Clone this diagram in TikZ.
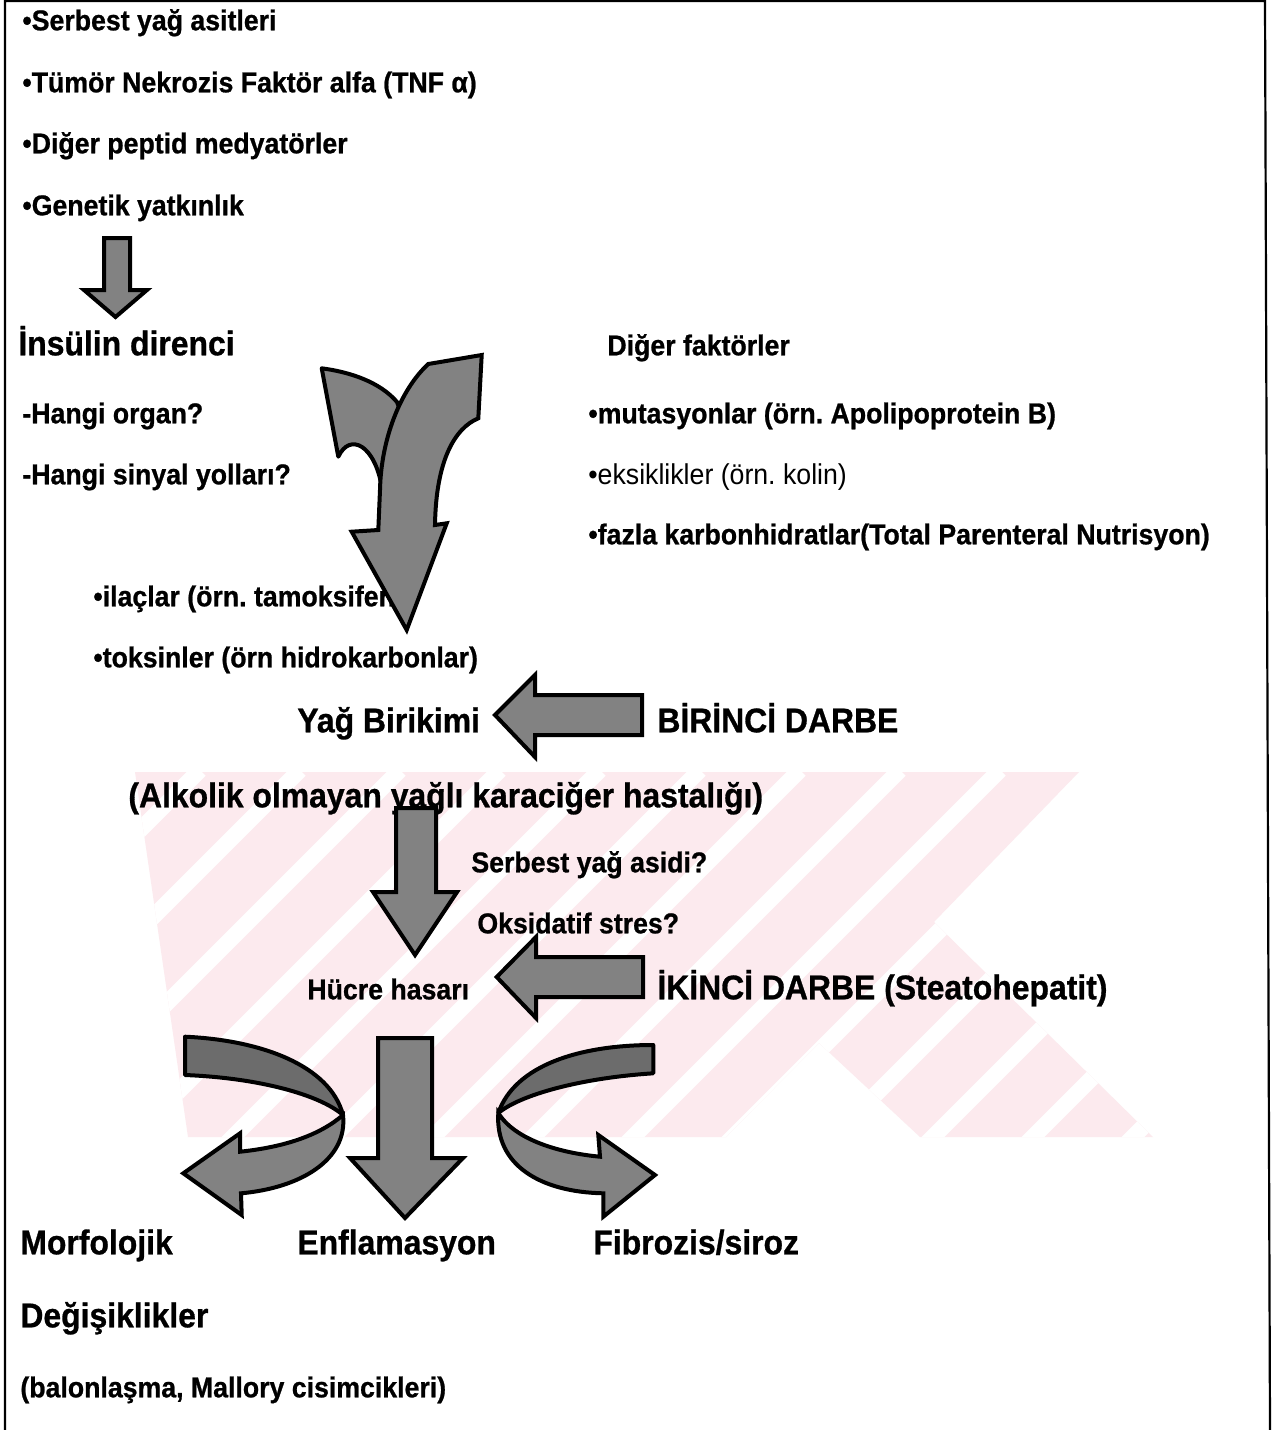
\documentclass[tikz,border=0pt]{standalone}
\usepackage{fontspec}
\setmainfont{Liberation Sans}[FakeStretch=0.93,BoldFeatures={FakeBold=0.8}]
\definecolor{wmpink}{RGB}{252,234,238}
\definecolor{arrgray}{RGB}{130,130,130}
\definecolor{arrdark}{RGB}{108,108,108}
\begin{document}
\frenchspacing
\begin{tikzpicture}[x=0.5pt,y=-0.5pt,
  ta/.style={font=\fontsize{14.35}{17}\selectfont\bfseries, anchor=west, inner sep=0pt, text height=10.3pt, text depth=0pt},
  tr/.style={font=\fontsize{14.35}{17}\selectfont, anchor=west, inner sep=0pt, text height=10.3pt, text depth=0pt},
  tb/.style={font=\fontsize{17.15}{20}\selectfont\bfseries, anchor=west, inner sep=0pt, text height=12.3pt, text depth=0pt},
  blk/.style={fill=arrgray, draw=black, line width=2pt, line join=miter},
  blkback/.style={fill=arrdark, draw=black, line width=2pt, line join=round},
  frame/.style={draw=black, line width=1.1pt}]
\useasboundingbox (0,0) rectangle (1279,1430);
\fill[white] (0,0) rectangle (1279,1430);
% ---------- watermark ----------
\begin{scope}
  \clip (135,772) -- (1079,772) -- (934,922) -- (1153,1137) -- (920,1137)
        -- (819,1043) -- (726,1137) -- (188,1137) -- cycle;
  \fill[wmpink] (0,760) rectangle (1279,1140);
  \foreach \k in {-12,...,8}
    \draw[white, line width=8pt] ({420+100*\k},1150) -- ++(380,-380);
\end{scope}
% ---------- frame ----------
\coordinate (fTL) at (5,1);
\coordinate (fTR) at (1265,1);
\coordinate (fBL) at (5,1430);
\coordinate (fBR) at (1270,1430);
\draw[frame] (fBL) -- (fTL) -- (fTR) -- (fBR);
% ---------- texts ----------
\node[ta] (b1) at (22,20) {•Serbest yağ asitleri};
\node[ta] (b2) at (22,82) {•Tümör Nekrozis Faktör alfa (TNF α)};
\node[ta] (b3) at (22,143) {•Diğer peptid medyatörler};
\node[ta] (b4) at (22,205) {•Genetik yatkınlık};
\node[tb] (ins) at (18,343) {İnsülin direnci};
\node[ta] (h1) at (22,413) {-Hangi organ?};
\node[ta] (h2) at (22,474) {-Hangi sinyal yolları?};
\node[ta] (df) at (607,345) {Diğer faktörler};
\node[ta] (d1) at (588,413) {•mutasyonlar (örn. Apolipoprotein B)};
\node[tr] (d2) at (588,474) {•eksiklikler (örn. kolin)};
\node[ta] (d3) at (588,534) {•fazla karbonhidratlar(Total Parenteral Nutrisyon)};
\node[ta] (il) at (93,596) {•ilaçlar (örn. tamoksifen)};
\node[ta] (tk) at (93,657) {•toksinler (örn hidrokarbonlar)};
\node[tb] (yb) at (297,720) {Yağ Birikimi};
\node[tb] (bd) at (657,720) {BİRİNCİ DARBE};
\node[tb] (ak) at (128,795) {(Alkolik olmayan yağlı karaciğer hastalığı)};
\node[ta] (sy) at (471,862) {Serbest yağ asidi?};
\node[ta] (os) at (477,923) {Oksidatif stres?};
\node[ta] (hh) at (307,989) {Hücre hasarı};
\node[tb] (id) at (657,987) {İKİNCİ DARBE (Steatohepatit)};
\node[tb] (mo) at (20,1242) {Morfolojik};
\node[tb] (en) at (297,1242) {Enflamasyon};
\node[tb] (fi) at (593,1242) {Fibrozis/siroz};
\node[tb] (de) at (20,1315) {Değişiklikler};
\node[ta] (ba) at (20,1387) {(balonlaşma, Mallory cisimcikleri)};
% ---------- small down arrow ----------
\draw[blk] (104,238) -- (130,238) -- (130,290) -- (147,290) -- (115.5,317)
  -- (84,290) -- (104,290) -- cycle;
% ---------- big curved arrow ----------
\draw[blk, line join=round] (321.7,368.3) .. controls (350,372) and (380,382) .. (397,402)
  -- (412,440) -- (382,488) .. controls (375,445) and (350,432) .. (338.3,456.7) -- cycle;
\draw[blk] (428.3,364) -- (481.7,355) -- (478.3,418.3)
  .. controls (455,428) and (436,460) .. (435,525) -- (446.7,523.3)
  -- (406.7,630) -- (351.7,531.7) -- (378.3,530) -- (380,490)
  .. controls (381,440) and (400,390) .. cycle;
% ---------- first hit arrow ----------
\draw[blk] (642,695) -- (642,735) -- (535,735) -- (535,757) -- (495,715)
  -- (535,675) -- (535,695) -- cycle;
% ---------- down arrow to cell damage ----------
\draw[blk] (396,808) -- (436,808) -- (436,892) -- (457,892) -- (415,955)
  -- (373,892) -- (396,892) -- cycle;
% ---------- second hit arrow ----------
\draw[blk] (643,957) -- (643,997) -- (536,997) -- (536,1018) -- (496.7,977)
  -- (536,937) -- (536,957) -- cycle;
% ---------- bottom left curved arrow ----------
\draw[blkback] (185,1036.7) .. controls (260,1040) and (330,1065) .. (343,1115)
  .. controls (320,1095) and (260,1078) .. (185,1075) -- cycle;
\draw[blk] (343,1115) .. controls (320,1135) and (285,1147) .. (240,1151.7)
  -- (240,1133.3) -- (183.3,1173.3) -- (241.7,1215) -- (241,1193.3)
  .. controls (300,1188) and (348,1160) .. (343,1115) -- cycle;
% ---------- bottom middle arrow ----------
\draw[blk] (378,1038) -- (432,1038) -- (432,1158) -- (463,1158) -- (405,1218)
  -- (350,1158) -- (378,1158) -- cycle;
% ---------- bottom right curved arrow ----------
\draw[blkback] (653.3,1045) .. controls (580,1045) and (515,1065) .. (498.3,1113)
  .. controls (520,1095) and (580,1078) .. (653.3,1073.3) -- cycle;
\draw[blk] (498.3,1113) .. controls (515,1140) and (560,1153) .. (600,1156.7)
  -- (598.3,1135) -- (655,1175) -- (603.3,1216.7) -- (603.3,1193.3)
  .. controls (540,1192) and (495,1165) .. (498.3,1113) -- cycle;
\end{tikzpicture}
\end{document}
